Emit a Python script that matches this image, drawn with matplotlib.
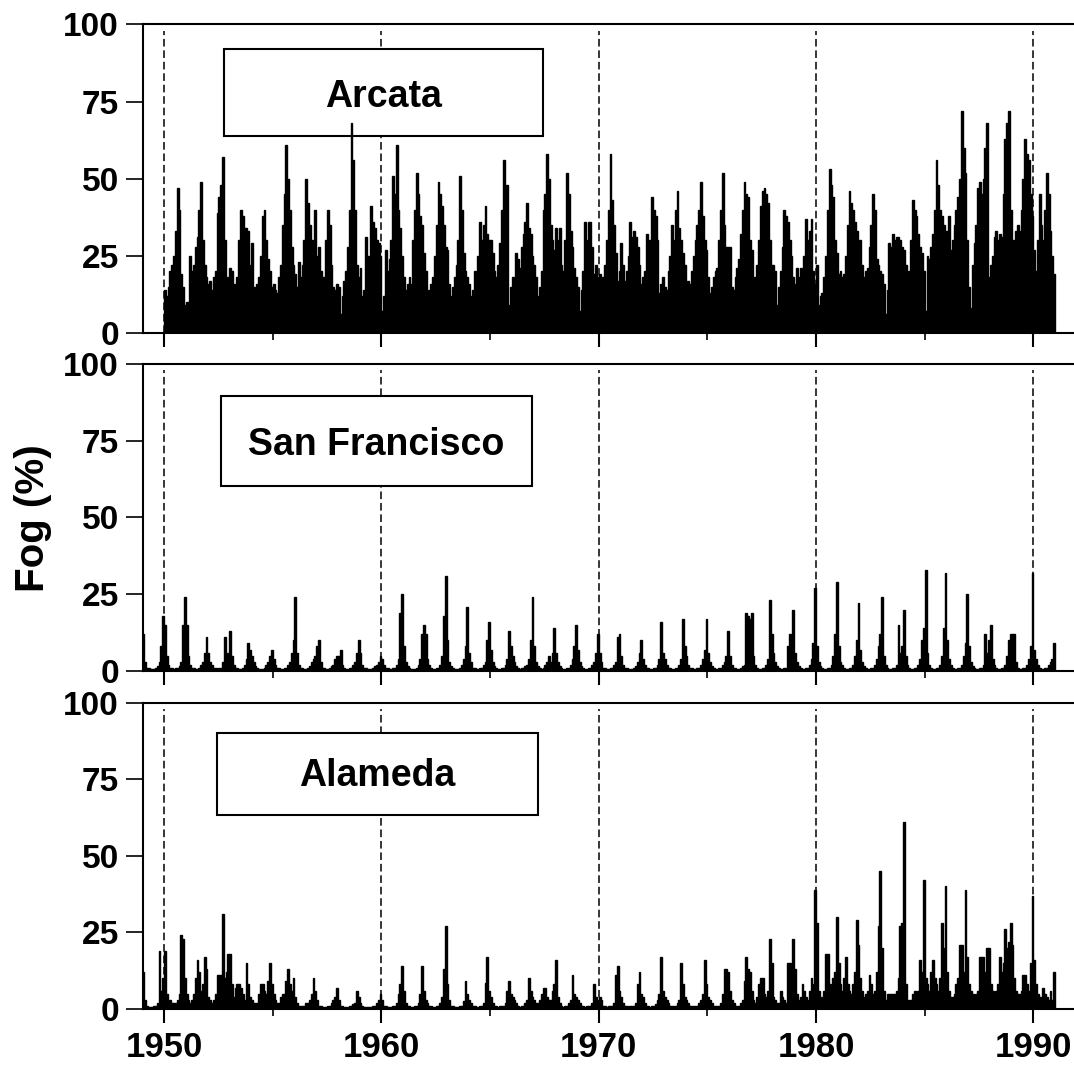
import numpy as np
import matplotlib.pyplot as plt
from matplotlib.patches import Rectangle

plt.rcParams['font.family'] = ['Liberation Sans', 'DejaVu Sans']
plt.rcParams['font.weight'] = 'bold'

# monthly fog frequency (%), Jan..Dec, one row per year
arcata_start = 1950
arcata_fog = [
    14, 12, 15, 20, 22, 25, 33, 47, 40, 19, 15, 9,     # 1950
    10, 8, 25, 20, 22, 28, 31, 40, 49, 30, 22, 18,     # 1951
    16, 17, 14, 18, 20, 39, 44, 48, 57, 30, 14, 18,    # 1952
    21, 20, 16, 6, 18, 30, 40, 38, 34, 34, 33, 22,     # 1953
    29, 15, 12, 16, 18, 25, 38, 40, 30, 24, 20, 15,    # 1954
    16, 14, 13, 18, 22, 35, 45, 61, 50, 40, 28, 22,    # 1955
    19, 15, 23, 18, 22, 30, 50, 42, 35, 30, 28, 40,    # 1956
    25, 28, 20, 18, 18, 30, 40, 35, 22, 15, 14, 16,    # 1957
    15, 6, 12, 17, 20, 28, 40, 68, 56, 40, 22, 18,     # 1958
    21, 12, 14, 31, 25, 22, 41, 36, 34, 30, 29, 25,    # 1959
    7, 12, 27, 20, 24, 30, 51, 45, 61, 40, 34, 25,     # 1960
    18, 14, 16, 18, 16, 30, 40, 52, 45, 38, 35, 26,    # 1961
    20, 11, 14, 16, 18, 25, 35, 49, 45, 41, 35, 28,    # 1962
    27, 16, 12, 15, 18, 22, 30, 51, 40, 26, 20, 18,    # 1963
    16, 12, 14, 20, 18, 25, 36, 30, 35, 41, 32, 30,    # 1964
    30, 26, 20, 18, 22, 29, 40, 56, 45, 48, 9, 15,     # 1965
    18, 15, 26, 24, 21, 28, 32, 36, 42, 34, 32, 25,    # 1966
    22, 18, 12, 15, 20, 40, 45, 58, 50, 35, 30, 27,    # 1967
    34, 30, 34, 22, 20, 30, 52, 45, 33, 28, 21, 18,    # 1968
    15, 7, 14, 20, 36, 30, 36, 36, 28, 19, 22, 18,     # 1969
    19, 4, 18, 22, 30, 40, 58, 43, 35, 26, 17, 20,     # 1970
    29, 22, 17, 20, 25, 36, 31, 33, 31, 28, 22, 16,    # 1971
    18, 20, 32, 28, 30, 44, 40, 38, 30, 13, 16, 18,    # 1972
    15, 14, 20, 25, 35, 30, 40, 46, 34, 30, 26, 22,    # 1973
    16, 17, 16, 20, 25, 30, 35, 40, 49, 38, 30, 27,    # 1974
    18, 13, 15, 18, 20, 21, 30, 40, 52, 35, 28, 28,    # 1975
    28, 15, 14, 18, 21, 24, 32, 40, 49, 45, 44, 30,    # 1976
    27, 15, 18, 22, 30, 41, 46, 47, 45, 42, 30, 22,    # 1977
    22, 20, 9, 15, 20, 28, 40, 38, 36, 30, 25, 18,     # 1978
    16, 21, 18, 21, 20, 25, 37, 30, 33, 37, 20, 16,    # 1979
    22, 9, 12, 13, 18, 25, 40, 53, 48, 44, 30, 26,     # 1980
    19, 20, 18, 19, 25, 35, 46, 42, 40, 36, 33, 28,    # 1981
    30, 22, 18, 20, 21, 28, 35, 45, 40, 24, 22, 20,    # 1982
    19, 16, 6, 14, 29, 28, 32, 30, 31, 31, 30, 28,     # 1983
    27, 22, 16, 20, 30, 43, 40, 38, 32, 28, 26, 20,    # 1984
    7, 25, 24, 28, 32, 40, 56, 48, 40, 38, 35, 33,     # 1985
    33, 38, 27, 30, 35, 40, 44, 50, 72, 60, 52, 30,    # 1986
    15, 8, 22, 29, 35, 47, 49, 45, 50, 60, 68, 18,     # 1987
    22, 25, 31, 33, 30, 32, 31, 45, 63, 68, 72, 40,    # 1988
    29, 30, 33, 35, 33, 40, 50, 63, 58, 56, 45, 38,    # 1989
    27, 20, 30, 45, 35, 30, 40, 52, 45, 33, 25, 19,    # 1990
]

sf_start = 1949
sf_fog = [
    12, 3, 1, 1, 0.5, 0.5, 0.5, 1, 1.5, 3, 8, 18,      # 1949
    15, 5, 2, 1, 1, 0.5, 1, 1, 1.5, 3, 15, 24,         # 1950
    15, 5, 2, 1, 1, 0.5, 0.5, 1, 2, 3, 6, 11,          # 1951
    6, 3, 2, 1, 1, 0.5, 1, 1, 3, 11, 4, 6,             # 1952
    13, 5, 2, 1, 1, 0.5, 0.5, 1, 2, 4, 9, 7,           # 1953
    5, 3, 1.5, 1, 0.5, 0.5, 0.5, 1, 2, 3, 5, 7,        # 1954
    4, 2, 1, 1, 0.5, 0.5, 1, 1, 2, 3, 6, 10,           # 1955
    24, 6, 2, 1, 1, 0.5, 0.5, 1, 1.5, 3, 4, 5,         # 1956
    8, 10, 3, 1, 1, 0.5, 0.5, 1, 1.5, 2, 4, 5,         # 1957
    5, 7, 2, 1, 0.5, 0.5, 1, 1, 2, 3, 6, 10,           # 1958
    6, 2, 1, 1, 0.5, 0.5, 0.5, 1, 1.5, 2, 3, 5,        # 1959
    4, 2, 1, 1, 0.5, 0.5, 1, 1, 2, 4, 19, 25,          # 1960
    8, 3, 1.5, 1, 0.5, 0.5, 0.5, 1, 2, 4, 12, 15,      # 1961
    12, 4, 2, 1, 0.5, 0.5, 1, 1, 2, 5, 18, 31,         # 1962
    10, 3, 1.5, 1, 0.5, 0.5, 0.5, 1, 2, 4, 8, 21,      # 1963
    6, 3, 1, 1, 0.5, 0.5, 1, 1, 2, 3, 10, 16,          # 1964
    7, 3, 1.5, 1, 0.5, 0.5, 1, 1, 2, 4, 13, 8,         # 1965
    5, 3, 1.5, 1, 0.5, 1, 1, 1.5, 2, 4, 10, 24,        # 1966
    8, 3, 1.5, 1, 0.5, 1, 2, 3, 5, 3, 6, 14,           # 1967
    6, 3, 1.5, 1, 0.5, 0.5, 1, 1, 2, 4, 8, 15,         # 1968
    7, 3, 1.5, 1, 0.5, 0.5, 1, 1, 2, 3, 6, 12,         # 1969
    6, 3, 1, 1, 0.5, 0.5, 1, 1, 2, 3, 11, 12,          # 1970
    5, 2, 1, 1, 0.5, 0.5, 0.5, 1, 1.5, 3, 6, 10,       # 1971
    4, 2, 1, 1, 0.5, 0.5, 1, 1, 2, 4, 16, 6,           # 1972
    4, 2, 1, 1, 0.5, 0.5, 1, 1, 2, 4, 17, 8,           # 1973
    5, 2, 1, 1, 0.5, 0.5, 1, 1, 2, 4, 7, 17,           # 1974
    6, 3, 1.5, 1, 0.5, 0.5, 1, 1, 2, 3, 5, 13,         # 1975
    5, 2, 1, 1, 0.5, 0.5, 1, 1.5, 2, 19, 18, 17,       # 1976
    19, 5, 2, 1, 0.5, 0.5, 1, 1, 2, 4, 23, 12,         # 1977
    6, 3, 1.5, 1, 0.5, 0.5, 1, 1, 8, 12, 6, 20,        # 1978
    6, 3, 1.5, 1, 0.5, 0.5, 1, 1, 2, 4, 9, 27,         # 1979
    8, 3, 1.5, 1, 0.5, 0.5, 1, 1, 2, 5, 12, 29,        # 1980
    8, 3, 2, 1, 0.5, 0.5, 1, 1, 2, 5, 10, 22,          # 1981
    7, 3, 1.5, 1, 0.5, 0.5, 1, 1, 2, 4, 8, 12,         # 1982
    24, 5, 2, 1, 0.5, 0.5, 1, 1, 2, 15, 6, 8,          # 1983
    20, 5, 2, 1, 0.5, 0.5, 1, 1, 2, 4, 10, 14,         # 1984
    33, 6, 2, 1, 0.5, 0.5, 1, 1, 2, 5, 14, 32,         # 1985
    10, 4, 2, 1, 0.5, 0.5, 1, 1, 2, 5, 9, 25,          # 1986
    8, 3, 1.5, 1, 0.5, 0.5, 1, 1, 2, 12, 6, 10,        # 1987
    15, 4, 2, 1, 0.5, 0.5, 1, 1, 2, 5, 10, 12,         # 1988
    12, 12, 3, 1, 0.5, 0.5, 1, 1, 2, 4, 8, 32,         # 1989
    7, 4, 2, 1, 0.5, 0.5, 1, 1, 2, 3, 4, 9,            # 1990
]

alameda_start = 1949
alameda_fog = [
    12, 3, 1, 0.5, 0.5, 0.5, 1, 1, 2, 19, 6, 10,       # 1949
    19, 5, 2, 3, 2, 2, 2, 3, 5, 24, 23, 10,            # 1950
    5, 3, 2, 3, 5, 10, 16, 12, 6, 8, 17, 13,           # 1951
    4, 3, 2, 3, 5, 11, 11, 11, 31, 10, 12, 18,         # 1952
    18, 8, 4, 7, 8, 8, 7, 5, 3, 15, 8, 4,              # 1953
    3, 2, 2, 2, 5, 8, 8, 6, 5, 9, 15, 8,               # 1954
    5, 3, 2, 2, 4, 5, 5, 9, 13, 8, 6, 10,              # 1955
    4, 2, 1, 1, 1, 1, 2, 2, 3, 5, 10, 6,               # 1956
    3, 1, 1, 0.5, 0.5, 0.5, 1, 1, 2, 3, 4, 7,          # 1957
    3, 1, 1, 0.5, 0.5, 0.5, 1, 1, 1.5, 2, 6, 4,        # 1958
    2, 1, 0.5, 0.5, 0.5, 0.5, 0.5, 1, 1, 2, 3, 5,      # 1959
    3, 1, 1, 0.5, 0.5, 0.5, 1, 1, 2, 5, 8, 14,         # 1960
    6, 2, 1, 1, 0.5, 0.5, 1, 1, 2, 5, 14, 6,           # 1961
    3, 2, 1, 1, 0.5, 0.5, 1, 1, 2, 4, 13, 27,          # 1962
    8, 3, 1, 1, 0.5, 0.5, 0.5, 1, 1, 2.5, 9, 5,        # 1963
    3, 2, 1, 1, 0.5, 0.5, 1, 1, 2, 8.5, 17, 6,         # 1964
    4, 2, 1, 1, 0.5, 1, 1, 1, 2, 5.8, 9, 5,            # 1965
    4, 3, 2, 1, 0.5, 1, 1, 2, 3, 10, 6, 4,             # 1966
    3, 2, 2, 3, 5, 7, 7, 4, 3, 3, 6, 8,                # 1967
    16, 4, 2, 1, 0.5, 1, 1, 2, 3, 11, 5, 4,            # 1968
    3, 2, 1, 1, 0.5, 1, 1, 1, 2, 8, 4, 3,              # 1969
    4, 3, 1, 1, 0.5, 1, 1, 1, 2, 11, 14, 6,            # 1970
    4, 2, 1, 1, 0.5, 1, 1, 1, 2, 8, 12, 5,             # 1971
    4, 2, 1, 1, 0.5, 1, 1, 1.5, 3, 5, 17, 6,           # 1972
    4, 3, 2, 1, 1, 1, 1, 2, 3, 15, 8, 4,               # 1973
    3, 2, 1, 1, 1, 1, 1, 2, 3, 5, 16, 8,               # 1974
    4, 3, 2, 1, 1, 1, 1, 2, 5, 13, 13, 12,             # 1975
    6, 3, 2, 1, 1, 1, 2, 3, 9, 17, 13, 12,             # 1976
    6, 3, 2, 4, 8, 10, 10, 5, 4, 6, 23, 15,            # 1977
    4, 3, 2, 2, 6, 4, 3, 2, 15, 15, 8, 23,             # 1978
    13, 5, 3, 4, 8, 6, 4, 3, 6, 10, 8, 39,             # 1979
    28, 6, 3, 4, 6, 18, 18, 8, 6, 10, 12, 30,          # 1980
    15, 8, 6, 10, 17, 8, 6, 5, 8, 12, 29, 21,          # 1981
    10, 6, 4, 5, 6, 11, 8, 5, 6, 12, 27, 45,           # 1982
    20, 6, 3, 5, 5, 5, 5, 5, 6, 10, 27, 28,            # 1983
    61, 8, 2, 3, 3, 5, 6, 5, 6, 16, 12, 42,            # 1984
    10, 8, 6, 12, 16, 10, 8, 6, 10, 28, 20, 40,        # 1985
    12, 6, 4, 4, 5, 8, 10, 21, 21, 12, 39, 17,         # 1986
    8, 6, 5, 4, 5, 6, 17, 17, 17, 12, 20, 20,          # 1987
    8, 6, 5, 6, 8, 17, 12, 15, 26, 20, 22, 28,         # 1988
    21, 10, 6, 5, 5, 6, 11, 11, 8, 6, 15, 37,          # 1989
    16, 8, 5, 4, 3, 7, 5, 4, 3, 6, 3, 12,              # 1990
]

stations = ['Arcata', 'San Francisco', 'Alameda']
decades = [1950, 1960, 1970, 1980, 1990]
half_decades = [1955, 1965, 1975, 1985]
y_ticks = [0, 25, 50, 75, 100]

series = [
    (arcata_start, arcata_fog),
    (sf_start, sf_fog),
    (alameda_start, alameda_fog),
]

# panel rectangles (left, bottom, width, height) and label boxes in axes units
panel_rects = [
    [0.1329, 0.6882, 0.8671, 0.2890],
    [0.1329, 0.3717, 0.8671, 0.2875],
    [0.1329, 0.0553, 0.8671, 0.2867],
]
label_boxes = [
    (0.0873, 0.6375, 0.3427, 0.2835, 0.7324),
    (0.0838, 0.6040, 0.3339, 0.2920, 0.7036),
    (0.0800, 0.6340, 0.3440, 0.2670, 0.7265),
]

fig = plt.figure(figsize=(10.74, 10.68), dpi=100)

for ind, name in enumerate(stations):
    ax = fig.add_axes(panel_rects[ind])
    start, values = series[ind]
    values = np.array(values, dtype=float)
    t = start + np.arange(values.size) / 12.0

    # dashed decade markers sit under the label box, bars go over it
    ax.vlines(decades, 0, 98, colors='black', linestyles=(0, (5, 2.5)),
              linewidth=1.1, zorder=1)
    x0, y0, w, h, base = label_boxes[ind]
    ax.add_patch(Rectangle((x0, y0), w, h, transform=ax.transAxes,
                           facecolor='white', edgecolor='black',
                           linewidth=1.5, zorder=1.5))
    ax.text(x0 + w / 2, base, name, transform=ax.transAxes,
            ha='center', va='baseline', fontsize=27, fontweight='bold',
            zorder=1.6)
    ax.bar(t, values, width=1 / 12, align='edge', color='black',
           edgecolor='black', linewidth=1.0, zorder=2)

    ax.set_xlim(1949.02, 1991.87)
    ax.set_ylim(0, 100)
    ax.spines['right'].set_visible(False)
    for side in ['left', 'top', 'bottom']:
        ax.spines[side].set_linewidth(1.5)

    ax.set_yticks(y_ticks)
    ax.set_xticks(decades)
    ax.set_xticks(half_decades, minor=True)
    ax.tick_params(axis='y', length=12, width=1.2, pad=5, labelsize=24)
    ax.tick_params(axis='x', which='major', length=10, width=1.5, pad=6,
                   labelsize=25)
    ax.tick_params(axis='x', which='minor', length=5, width=1.2)
    if ind < len(stations) - 1:
        ax.tick_params(axis='x', labelbottom=False)

fig.text(0.031, 0.515, 'Fog (%)', rotation=90, ha='center', va='center',
         fontsize=29, fontweight='bold')

fig.savefig('out.png', dpi=100)
